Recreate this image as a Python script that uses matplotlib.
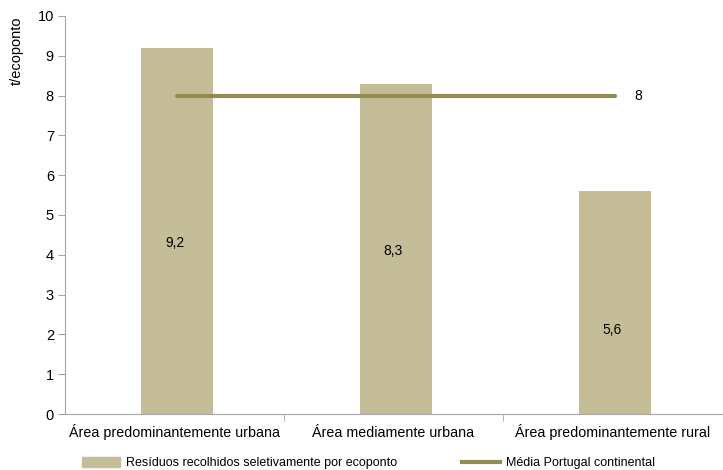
import matplotlib.pyplot as plt
import numpy as np
from matplotlib.lines import Line2D
from matplotlib.patches import Patch

plt.rcParams['font.family'] = ['Liberation Sans', 'DejaVu Sans']

# data
categories = ['Área predominantemente urbana', 'Área mediamente urbana', 'Área predominantemente rural']
valores = [9.2, 8.3, 5.6]
media = 8
label_y = [4.3, 4.1, 2.1]   # where the value labels sit inside the bars

bar_color = '#C4BD97'
line_color = '#948A54'
axis_color = '#A6A6A6'

fig = plt.figure(figsize=(7.23, 4.70), dpi=100)
ax = fig.add_axes([65/723, 1 - 414/470, 657/723, 398/470])

x = np.arange(len(categories))
ax.bar(x + 0.01, valores, width=0.33, color=bar_color, zorder=2)
ax.plot([x[0] + 0.01, x[-1] + 0.01], [media, media], color=line_color, lw=3, zorder=3,
        solid_capstyle='round')

for xi, v, ly in zip(x, valores, label_y):
    ax.text(xi, ly, f'{v:.1f}'.replace('.', ','), ha='center', va='center', fontsize=10)
ax.text(x[-1] + 0.1, media, f'{media}', ha='left', va='center', fontsize=10)

ax.set_xlim(-0.5, 2.5)
ax.set_ylim(0, 10)
ax.set_yticks(range(0, 11))
ax.set_xticks(x)
ax.set_xticklabels(categories, fontsize=10.3)
for lab in ax.get_xticklabels():
    lab.set_va('baseline')   # keep all three on one baseline
ax.set_xticks([0.5, 1.5], minor=True)
ax.tick_params(axis='x', which='major', length=0, pad=16.5)
ax.tick_params(axis='x', which='minor', length=5, color=axis_color)
ax.tick_params(axis='y', length=5, color=axis_color, labelsize=10.5, pad=3)

for s in ['top', 'right']:
    ax.spines[s].set_visible(False)
for s in ['left', 'bottom']:
    ax.spines[s].set_color(axis_color)

fig.text(17/723, 1 - 51/470, 't/ecoponto', rotation=90, ha='center', va='center', fontsize=10.5)

handles = [Patch(color=bar_color), Line2D([0], [0], color=line_color, lw=3)]
fig.legend(handles, ['Resíduos recolhidos seletivamente por ecoponto', 'Média Portugal continental'],
           loc='center', bbox_to_anchor=(0.5 + 7/723, 1 - 463/470), ncol=2, frameon=False,
           fontsize=9, handlelength=3.0, handleheight=0.9, columnspacing=5.2, handletextpad=0.5)

fig.savefig('out.png', dpi=100)
